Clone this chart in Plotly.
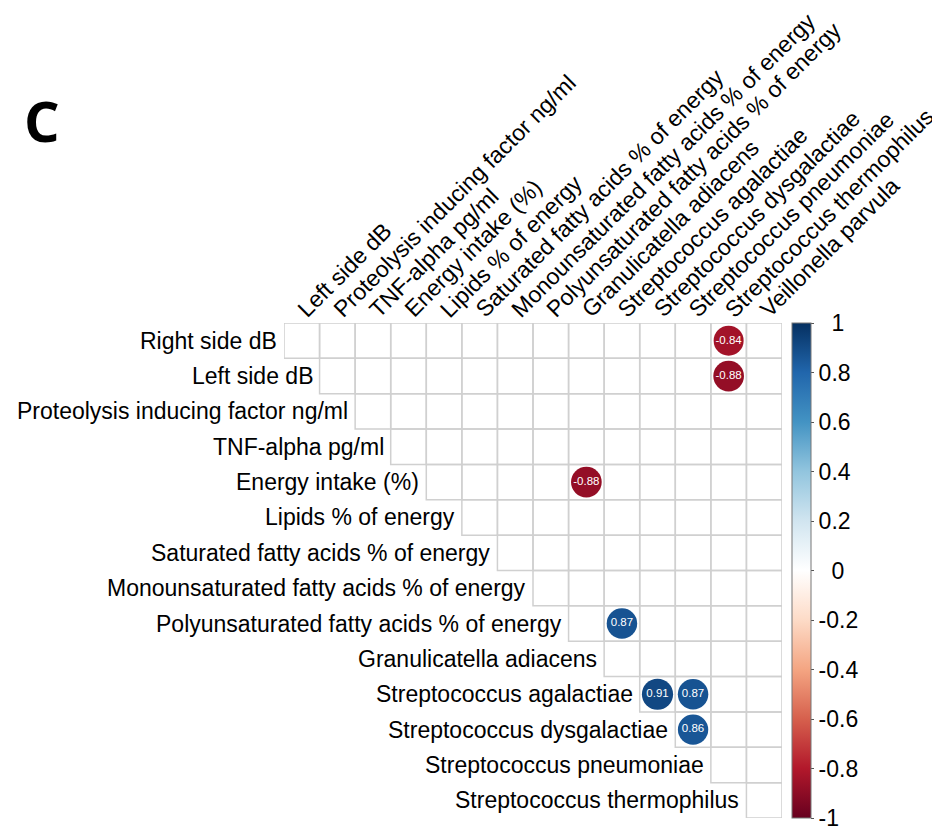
import math
import plotly.graph_objects as go

# ---------------- data ----------------
row_labels = [
    "Right side dB", "Left side dB", "Proteolysis inducing factor ng/ml",
    "TNF-alpha pg/ml", "Energy intake (%)", "Lipids % of energy",
    "Saturated fatty acids % of energy", "Monounsaturated fatty acids % of energy",
    "Polyunsaturated fatty acids % of energy", "Granulicatella adiacens",
    "Streptococcus agalactiae", "Streptococcus dysgalactiae",
    "Streptococcus pneumoniae", "Streptococcus thermophilus",
]
col_labels = [
    "Left side dB", "Proteolysis inducing factor ng/ml", "TNF-alpha pg/ml",
    "Energy intake (%)", "Lipids % of energy", "Saturated fatty acids % of energy",
    "Monounsaturated fatty acids % of energy", "Polyunsaturated fatty acids % of energy",
    "Granulicatella adiacens", "Streptococcus agalactiae", "Streptococcus dysgalactiae",
    "Streptococcus pneumoniae", "Streptococcus thermophilus", "Veillonella parvula",
]
# significant correlations (row label, column label, r)
sig_rows = ["Right side dB", "Left side dB", "Energy intake (%)",
            "Polyunsaturated fatty acids % of energy", "Streptococcus agalactiae",
            "Streptococcus agalactiae", "Streptococcus dysgalactiae"]
sig_cols = ["Streptococcus thermophilus", "Streptococcus thermophilus",
            "Granulicatella adiacens", "Streptococcus agalactiae",
            "Streptococcus dysgalactiae", "Streptococcus pneumoniae",
            "Streptococcus pneumoniae"]
sig_values = [-0.84, -0.88, -0.88, 0.87, 0.91, 0.87, 0.86]

colorbar_ticks = [1, 0.8, 0.6, 0.4, 0.2, 0, -0.2, -0.4, -0.6, -0.8, -1]
colorbar_ticktext = ["\u20071", "0.8", "0.6", "0.4", "0.2", "\u20070",
                     "-0.2", "-0.4", "-0.6", "-0.8", "-1"]

# ---------------- style ----------------
W, H = 940, 827
OFF = 8  # page body margin
ML, MT = 284 - OFF, 322.7 - OFF
PW, PH = 497.7, 495.5
n = len(col_labels)
cell_px = PW / n
FONT = "Liberation Sans, Arial, sans-serif"
LABEL_SIZE = 23

palette = ["#67001F", "#B2182B", "#D6604D", "#F4A582", "#FDDBC7", "#FFFFFF",
           "#D1E5F0", "#92C5DE", "#4393C3", "#2166AC", "#053061"]
colorscale = [[i / (len(palette) - 1), c] for i, c in enumerate(palette)]

xs = [col_labels.index(c) for c in sig_cols]
ys = [row_labels.index(r) for r in sig_rows]
sizes = [0.92 * cell_px * math.sqrt(abs(v)) for v in sig_values]

fig = go.Figure()
fig.add_trace(go.Scatter(
    x=xs, y=ys, mode="markers+text",
    text=[f"{v:.2f}" for v in sig_values],
    textfont=dict(family=FONT, size=11.5, color="white"),
    textposition="middle center",
    marker=dict(size=sizes, color=sig_values, colorscale=colorscale, cmin=-1, cmax=1,
                line=dict(width=0), opacity=1,
                colorbar=dict(
                    x=(791.7 - OFF - ML) / PW, xanchor="left", xpad=0, ypad=0,
                    y=0.5, yanchor="middle", len=1, lenmode="fraction",
                    thickness=19, outlinewidth=1, outlinecolor="#777777",
                    tickmode="array", tickvals=colorbar_ticks, ticktext=colorbar_ticktext,
                    ticks="outside", ticklen=3, tickcolor="#555555", tickwidth=1,
                    tickfont=dict(family=FONT, size=23, color="black"),
                )),
    hoverinfo="skip", showlegend=False,
))

shapes = []
for i in range(len(row_labels)):
    for j in range(i, n):
        shapes.append(dict(type="rect", xref="x", yref="y",
                           x0=j - 0.5, x1=j + 0.5, y0=i - 0.5, y1=i + 0.5,
                           line=dict(color="#D0D0D0", width=1.5), layer="below"))

annotations = []
for i, lab in enumerate(row_labels):
    annotations.append(dict(x=i - 0.5, y=i, xref="x", yref="y", text=lab,
                            showarrow=False, xanchor="right", yanchor="middle",
                            xshift=-5, font=dict(family=FONT, size=LABEL_SIZE, color="black")))
for j, lab in enumerate(col_labels):
    annotations.append(dict(x=j, y=-0.5, xref="x", yref="y", text=lab,
                            showarrow=False, xanchor="left", yanchor="bottom",
                            textangle=-45, xshift=-12, yshift=-2,
                            font=dict(family=FONT, size=LABEL_SIZE, color="black")))
annotations.append(dict(x=(42 - OFF - ML) / PW, y=(MT + PH - (119 - OFF)) / PH,
                        xref="paper", yref="paper",
                        text="<b>C</b>", showarrow=False, xanchor="center", yanchor="middle",
                        font=dict(family="Open Sans, Lato, sans-serif", size=56, color="black")))

fig.update_layout(
    width=W, height=H, autosize=False,
    margin=dict(l=ML, r=W - ML - PW, t=MT, b=H - MT - PH, pad=0),
    paper_bgcolor="white", plot_bgcolor="white",
    xaxis=dict(range=[-0.5, n - 0.5], visible=False, fixedrange=True),
    yaxis=dict(range=[len(row_labels) - 0.5, -0.5], visible=False, fixedrange=True),
    shapes=shapes, annotations=annotations,
)
fig.write_html("out.html")
